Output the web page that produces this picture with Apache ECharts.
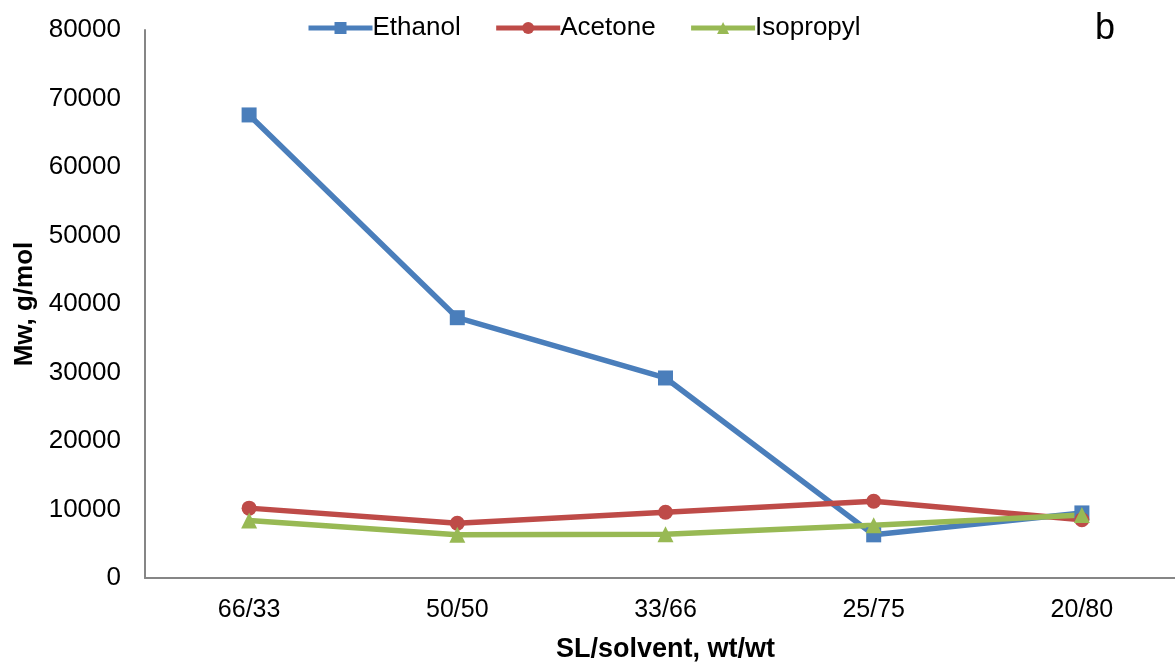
<!DOCTYPE html>
<html>
<head>
<meta charset="utf-8">
<script src="https://cdn.jsdelivr.net/npm/echarts@6/dist/echarts.min.js"></script>
<style>
  html, body { margin: 0; padding: 0; background: #fff; overflow: hidden; }
  #chart { width: 1186px; height: 665px; }
</style>
</head>
<body>
<div id="chart"></div>
<script>
// SL/solvent ratios on the category axis
const categories = ['66/33', '50/50', '33/66', '25/75', '20/80'];

// Mw (g/mol) for each solvent
const ethanol = [67600, 38000, 29200, 6300, 9500];
const acetone = [10200, 8000, 9600, 11200, 8500];
const isopropyl = [8400, 6300, 6400, 7700, 9200];

const FONT = '"Liberation Sans", Arial, sans-serif';

function lineSeries(name, data, color, symbol, size) {
  return {
    name: name,
    type: 'line',
    data: data,
    symbol: symbol,
    symbolSize: size,
    lineStyle: { color: color, width: 5.5 },
    itemStyle: { color: color },
    emphasis: { disabled: true }
  };
}

const chart = echarts.init(document.getElementById('chart'));
chart.setOption({
  animation: false,
  backgroundColor: '#ffffff',
  textStyle: { fontFamily: FONT },
  grid: { left: 145, right: 0, top: 30, bottom: 87, outerBoundsMode: 'none', containLabel: false },
  legend: {
    top: 10,
    left: 301,
    itemWidth: 64,
    itemHeight: 15,
    itemGap: 33,
    lineStyle: { width: 5 },
    textStyle: { fontFamily: FONT, fontSize: 26, color: '#000', padding: [0, 0, 0, -5] },
    data: ['Ethanol', 'Acetone', 'Isopropyl']
  },
  graphic: [{
    type: 'text',
    left: 1095,
    top: 11,
    style: { text: 'b', font: '36px "Liberation Sans", Arial, sans-serif', fill: '#000' }
  }],
  xAxis: {
    type: 'category',
    data: categories,
    boundaryGap: true,
    name: 'SL/solvent, wt/wt',
    nameLocation: 'middle',
    nameGap: 58,
    nameTextStyle: { fontFamily: FONT, fontSize: 27, fontWeight: 'bold', color: '#000' },
    axisLine: { lineStyle: { color: '#868686', width: 2 } },
    axisTick: { show: false },
    axisLabel: { fontFamily: FONT, fontSize: 25, color: '#000', margin: 20 },
    splitLine: { show: false }
  },
  yAxis: {
    type: 'value',
    min: 0,
    max: 80000,
    interval: 10000,
    name: 'Mw, g/mol',
    nameLocation: 'middle',
    nameGap: 100,
    nameRotate: 90,
    nameTextStyle: { fontFamily: FONT, fontSize: 26, fontWeight: 'bold', color: '#000' },
    axisLine: { show: true, lineStyle: { color: '#868686', width: 2 } },
    axisTick: { show: false },
    axisLabel: { fontFamily: FONT, fontSize: 26, color: '#000', margin: 24, formatter: v => String(v) },
    splitLine: { show: false }
  },
  series: [
    lineSeries('Ethanol', ethanol, '#4a7ebb', 'rect', 15),
    lineSeries('Acetone', acetone, '#be4b48', 'circle', 15),
    lineSeries('Isopropyl', isopropyl, '#98b954', 'triangle', 16)
  ]
});
</script>
</body>
</html>
